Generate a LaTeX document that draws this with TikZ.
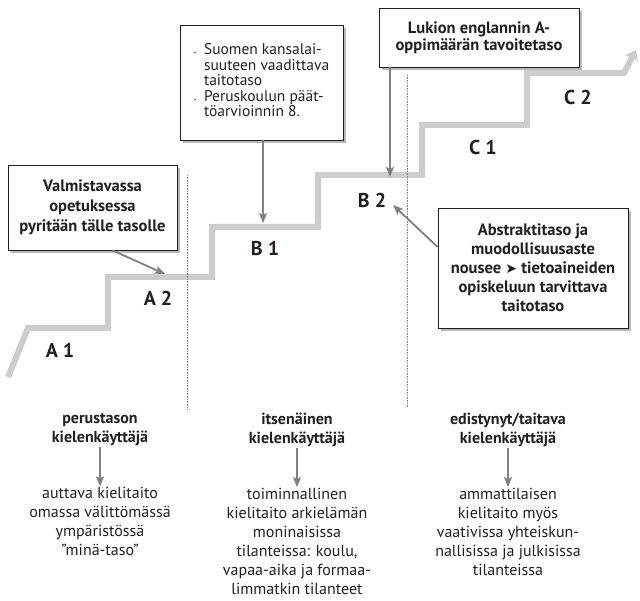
\documentclass[tikz,border=0pt]{standalone}
\usepackage{fontspec}
\setmainfont{PT Sans}
\newfontfamily\symfont{DejaVu Sans}
\usetikzlibrary{positioning,arrows.meta,shadows}
\definecolor{stairgray}{HTML}{CDCDCD}
\definecolor{arrowgray}{HTML}{808080}
\definecolor{inkgray}{HTML}{231F20}
\tikzset{
 box/.style
  = {rectangle, draw=inkgray, thick, fill=white, align=center, inner sep=2pt,
     drop shadow={shadow xshift=3pt, shadow yshift=-3pt, fill=black!55}},
 boxtext/.style
  = {font=\fontsize{16.5}{20}\selectfont\bfseries},
 level/.style
  = {font=\fontsize{20}{22}\selectfont\bfseries, text=inkgray},
 head/.style
  = {align=center, font=\fontsize{16}{19}\selectfont\bfseries, text=inkgray, inner sep=1pt},
 desc/.style
  = {align=center, font=\fontsize{16}{19}\selectfont, text=inkgray, inner sep=1pt, node distance=39pt},
 pointer/.style
  = {draw=arrowgray, line width=1.8pt, -{Stealth[length=10pt, width=8pt, inset=2pt]}},
 stairs/.style
  = {draw=stairgray, line width=6pt, -{Stealth[length=10pt, width=15pt, inset=3pt]}},
 divider/.style
  = {draw=arrowgray, densely dotted, line width=0.6pt}
}

\begin{document}
\begin{tikzpicture}[x=1pt, y=-1pt, text=inkgray]
    \useasboundingbox (0,0) rectangle (640,601);

    % staircase
    \path [stairs] (8,377) -- (28,328) -- (108,328) -- (108,277) -- (212,277)
      -- (212,227) -- (318,227) -- (318,175) -- (422,175) -- (422,125)
      -- (527,125) -- (527,73) -- (624,73) -- (636,50);

    % dividers
    \coordinate (div1top) at (187,175);
    \coordinate (div1bot) at (187,410);
    \coordinate (div2top) at (407,75);
    \coordinate (div2bot) at (407,407);
    \path [divider] (div1top) -- (div1bot);
    \path [divider] (div2top) -- (div2bot);

    % levels
    \node [level] (a1) at (60,350) {A 1};
    \node [level] (a2) at (158,298) {A 2};
    \node [level] (b1) at (265,248) {B 1};
    \node [level] (b2) at (372,200) {B 2};
    \node [level] (c1) at (483,148) {C 1};
    \node [level] (c2) at (578,98) {C 2};

    % boxes
    \node [box, boxtext, minimum width=169pt, minimum height=85pt] (prep) at (92.5,207.5)
      {Valmistavassa\\opetuksessa\\pyritään tälle tasolle};
    \node [box, minimum width=163pt, minimum height=115pt, font=\fontsize{15.5}{15.5}\selectfont] (basic) at (261.5,82.5)
      {\begin{tabular}{@{}l@{\hspace{8pt}}l@{}}
        {\tiny\textbullet} & Suomen kansalai-\\
                           & suuteen vaadittava\\
                           & taitotaso\\
        {\tiny\textbullet} & Peruskoulun päät-\\
                           & töarvioinnin 8.
       \end{tabular}};
    \node [box, minimum width=200pt, minimum height=59pt, font=\fontsize{16.5}{17}\selectfont\bfseries] (upper) at (479,37.5)
      {Lukion englannin A-\\oppimäärän tavoitetaso};
    \node [box, minimum width=190pt, minimum height=120pt, font=\fontsize{16.5}{19}\selectfont\bfseries] (abstract) at (533,268)
      {Abstraktitaso ja\\muodollisuusaste\\nousee {\symfont\fontsize{14}{19}\selectfont ➤} tietoaineiden\\opiskeluun tarvittava\\taitotaso};

    % pointers to the stairs
    \coordinate (a2in) at (165,274);
    \coordinate (b1in) at (263,223);
    \coordinate (b2in) at (390,177);
    \coordinate (b2up) at (393,205);
    \path [pointer] ([xshift=20pt]prep.south) -- (a2in);
    \path [pointer] (basic.south -| b1in) -- (b1in);
    \path [pointer] (upper.south -| b2in) -- (b2in);
    \path [pointer] ([yshift=21pt]abstract.west) -- (b2up);

    % user groups
    \node [head] (basicuser) at (100,430) {perustason\\kielenkäyttäjä};
    \node [desc, below = of basicuser] (basictext)
      {auttava kielitaito\\omassa välittömässä\\ympäristössä\\"minä-taso"};
    \node [head] (indepuser) at (297,430) {itsenäinen\\kielenkäyttäjä};
    \node [desc, below = of indepuser] (indeptext)
      {toiminnallinen\\kielitaito arkielämän\\moninaisissa\\tilanteissa: koulu,\\vapaa-aika ja formaa-\\limmatkin tilanteet};
    \node [head] (profuser) at (508,430) {edistynyt/taitava\\kielenkäyttäjä};
    \node [desc, below = of profuser] (proftext)
      {ammattilaisen\\kielitaito myös\\vaativissa yhteiskun-\\nallisissa ja julkisissa\\tilanteissa};

    \path [pointer] (basicuser) -- (basictext);
    \path [pointer] (indepuser) -- (indeptext);
    \path [pointer] (profuser) -- (proftext);

\end{tikzpicture}
\end{document}
